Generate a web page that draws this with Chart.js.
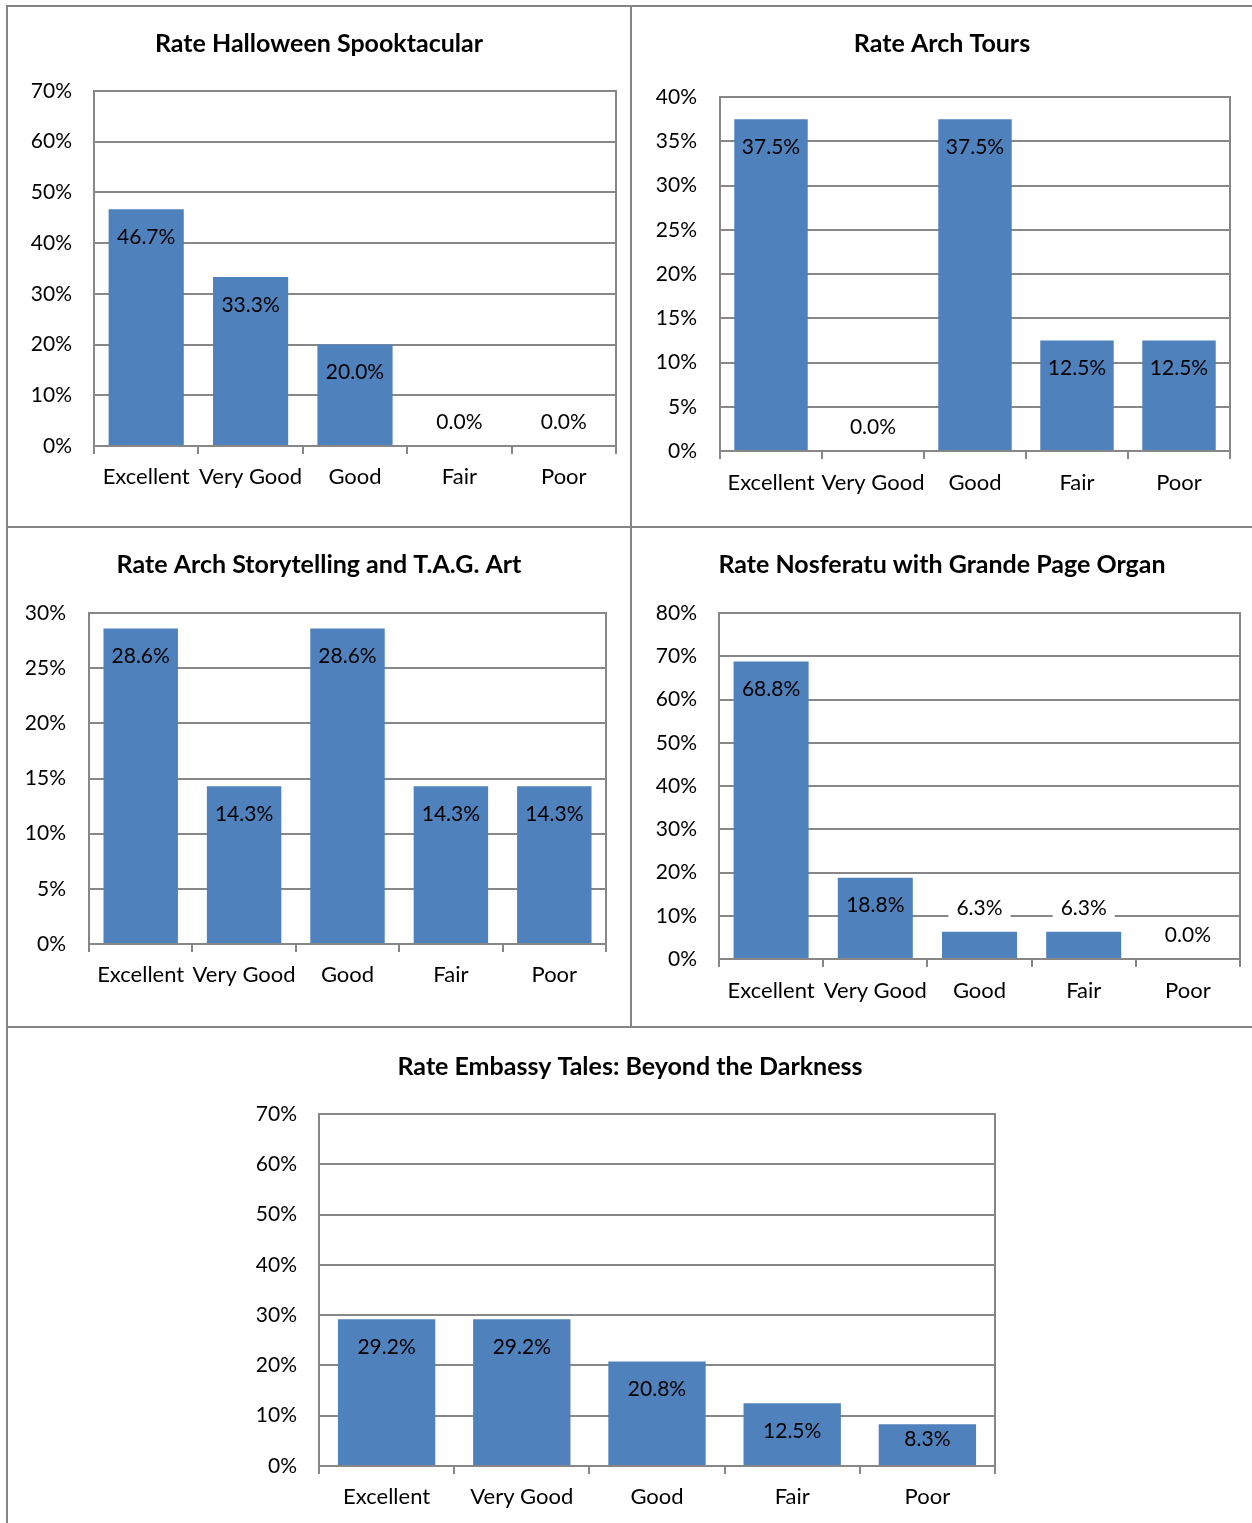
<!DOCTYPE html>
<html>
<head>
<meta charset="utf-8">
<title>Event ratings</title>
<script src="https://cdn.jsdelivr.net/npm/chart.js@4.4.1/dist/chart.umd.min.js"></script>
<style>
  html, body { margin: 0; padding: 0; background: #fff; }
  #page { position: relative; width: 1252px; height: 1523px; overflow: hidden; }
  .rule { position: absolute; background: #848484; }
  canvas { position: absolute; }
</style>
</head>
<body>
<div id="page">
  <div class="rule" style="left:6px; top:5px; width:1246px; height:2px;"></div>
  <div class="rule" style="left:6px; top:5px; width:2px; height:1518px;"></div>
  <div class="rule" style="left:630px; top:5px; width:2px; height:1023px;"></div>
  <div class="rule" style="left:6px; top:526px; width:1246px; height:2px;"></div>
  <div class="rule" style="left:6px; top:1026px; width:1246px; height:2px;"></div>

  <canvas id="halloween"></canvas>
  <canvas id="archTours"></canvas>
  <canvas id="storytelling"></canvas>
  <canvas id="nosferatu"></canvas>
  <canvas id="embassy"></canvas>
</div>

<script>
var ratingLabels = ['Excellent', 'Very Good', 'Good', 'Fair', 'Poor'];

// percent of responses per rating
var halloweenPct    = [46.7, 33.3, 20.0, 0.0, 0.0];
var archToursPct    = [37.5, 0.0, 37.5, 12.5, 12.5];
var storytellingPct = [28.6, 14.3, 28.6, 14.3, 14.3];
var nosferatuPct    = [68.8, 18.8, 6.3, 6.3, 0.0];
var embassyPct      = [29.2, 29.2, 20.8, 12.5, 8.3];

// [axis max, step] for the value axis
var halloweenAxis    = [70, 10];
var archToursAxis    = [40, 5];
var storytellingAxis = [30, 5];
var nosferatuAxis    = [80, 10];
var embassyAxis      = [70, 10];

var BAR_BLUE = '#4f81bd';
var LINE_GREY = '#878787';
var FONT = 'Lato';
var TITLE_SIZE = 25;

// grey frame round the plot area
var plotFrame = {
  id: 'plotFrame',
  beforeDatasetsDraw: function(chart) {
    var a = chart.chartArea, ctx = chart.ctx;
    ctx.save();
    ctx.strokeStyle = LINE_GREY;
    ctx.lineWidth = 2;
    ctx.strokeRect(a.left, a.top, a.right - a.left, a.bottom - a.top);
    ctx.restore();
  }
};

// percentage labels: inside the top of tall bars, above short ones
var barValueLabels = {
  id: 'barValueLabels',
  afterDatasetsDraw: function(chart) {
    var ctx = chart.ctx;
    var vals = chart.data.datasets[0].data;
    var meta = chart.getDatasetMeta(0);
    ctx.save();
    ctx.font = '21px ' + FONT;
    ctx.textAlign = 'center';
    ctx.textBaseline = 'middle';
    meta.data.forEach(function(bar, i) {
      var text = vals[i].toFixed(1) + '%';
      var h = bar.base - bar.y;
      var y;
      if (h >= 54) {
        y = bar.y + 28;
      } else if (h >= 36) {
        y = bar.y + h - 26;
      } else {
        y = bar.y - 24;
        var w = ctx.measureText(text).width + 16;
        ctx.fillStyle = '#fff';
        ctx.fillRect(bar.x - w / 2, y - 13, w, 26);
      }
      ctx.fillStyle = '#000';
      ctx.fillText(text, bar.x, y);
    });
    ctx.restore();
  }
};

// cell = [left, top, width, height], plot = [left, top, right, bottom] in page pixels
function buildChart(id, title, values, axis, cell, plot, titleY, tickRight, catY) {
  var canvas = document.getElementById(id);
  canvas.width = cell[2];
  canvas.height = cell[3];
  canvas.style.left = cell[0] + 'px';
  canvas.style.top = cell[1] + 'px';

  var titleLine = TITLE_SIZE * 1.2;
  var titlePadTop = titleY - cell[1] - titleLine / 2;
  var titlePadBottom = plot[1] - cell[1] - titlePadTop - titleLine;

  return new Chart(canvas.getContext('2d'), {
    type: 'bar',
    data: {
      labels: ratingLabels,
      datasets: [{
        data: values,
        backgroundColor: BAR_BLUE,
        borderWidth: 0,
        categoryPercentage: 1,
        barPercentage: 0.72
      }]
    },
    options: {
      responsive: false,
      animation: false,
      layout: { padding: 0 },
      plugins: {
        legend: { display: false },
        tooltip: { enabled: false },
        title: {
          display: true,
          text: title,
          color: '#000',
          font: { family: FONT, size: TITLE_SIZE, weight: 'bold', lineHeight: 1.2 },
          padding: { top: titlePadTop, bottom: titlePadBottom }
        }
      },
      scales: {
        x: {
          grid: { drawOnChartArea: false, color: LINE_GREY, lineWidth: 2, tickLength: 8 },
          border: { color: LINE_GREY, width: 2 },
          ticks: {
            color: '#000',
            font: { family: FONT, size: 22 },
            maxRotation: 0,
            autoSkip: false,
            padding: catY - plot[3] - 8 - 22 * 1.2 / 2
          },
          afterFit: function(s) { s.height = cell[1] + cell[3] - plot[3]; }
        },
        y: {
          min: 0,
          max: axis[0],
          grid: { drawTicks: false, color: LINE_GREY, lineWidth: 2 },
          border: { color: LINE_GREY, width: 2 },
          ticks: {
            stepSize: axis[1],
            color: '#000',
            font: { family: FONT, size: 21 },
            padding: plot[0] - tickRight,
            callback: function(v) { return v + '%'; }
          },
          afterFit: function(s) { s.width = plot[0] - cell[0]; }
        },
        // empty right-hand axis, only keeps the margin so the title stays centred on the cell
        spacer: {
          type: 'linear',
          position: 'right',
          grid: { display: false },
          border: { display: false },
          ticks: { display: false },
          afterFit: function(s) { s.width = cell[0] + cell[2] - plot[2]; }
        }
      }
    },
    plugins: [plotFrame, barValueLabels]
  });
}

buildChart('halloween', 'Rate Halloween Spooktacular', halloweenPct, halloweenAxis,
  [8, 7, 622, 519], [94, 91, 616, 446], 44, 72, 477);
buildChart('archTours', 'Rate Arch Tours', archToursPct, archToursAxis,
  [632, 7, 620, 519], [720, 97, 1230, 451], 44, 697, 483);
buildChart('storytelling', 'Rate Arch Storytelling and T.A.G. Art', storytellingPct, storytellingAxis,
  [8, 528, 622, 498], [89, 613, 606, 944], 565, 66, 975);
buildChart('nosferatu', 'Rate Nosferatu with Grande Page Organ', nosferatuPct, nosferatuAxis,
  [632, 528, 620, 498], [719, 613, 1240, 959], 565, 697, 991);
buildChart('embassy', 'Rate Embassy Tales: Beyond the Darkness', embassyPct, embassyAxis,
  [8, 1028, 1244, 495], [319, 1114, 995, 1466], 1067, 297, 1497);
</script>
</body>
</html>
